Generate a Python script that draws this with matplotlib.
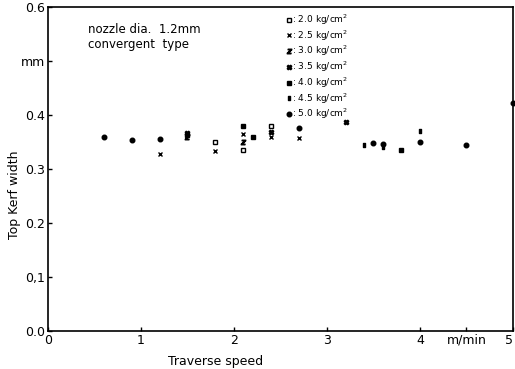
import numpy as np
import matplotlib
matplotlib.use("Agg")
import matplotlib.pyplot as plt

# Top kerf width (mm) vs traverse speed (m/min) for several gas pressures
p20_x = [1.8, 2.1, 2.4]
p20_y = [0.350, 0.335, 0.380]
p25_x = [1.2, 1.8, 2.1, 2.4, 2.7]
p25_y = [0.327, 0.333, 0.364, 0.359, 0.357]
p30_x = [1.5, 2.1]
p30_y = [0.360, 0.350]
p35_x = [1.5, 2.4, 3.2]
p35_y = [0.366, 0.368, 0.387]
p40_x = [2.1, 2.2, 3.8, 1.5]
p40_y = [0.380, 0.360, 0.335, 0.363]
p45_x = [3.4, 3.6, 4.0]
p45_y = [0.345, 0.340, 0.370]
p50_x = [0.6, 0.9, 1.2, 2.7, 3.5, 3.6, 4.0, 4.5, 5.0]
p50_y = [0.360, 0.353, 0.355, 0.376, 0.348, 0.347, 0.350, 0.345, 0.422]

series = [
    (p20_x, p20_y, "s", "white", "2.0"),
    (p25_x, p25_y, "x", "black", "2.5"),
    (p30_x, p30_y, "$z$", "black", "3.0"),
    (p35_x, p35_y, "X", "black", "3.5"),
    (p40_x, p40_y, "s", "black", "4.0"),
    (p45_x, p45_y, "$\\mathbf{I}$", "black", "4.5"),
    (p50_x, p50_y, "o", "black", "5.0"),
]

xticks = [0, 1, 2, 3, 4, 4.5, 5]
xlabels = ["0", "1", "2", "3", "4", "m/min", "5"]
yticks = [0.0, 0.1, 0.2, 0.3, 0.4, 0.5, 0.6]
ylabels = ["0.0", "0,1", "0.2", "0.3", "0.4", "mm", "0.6"]

fig = plt.figure(figsize=(5.15, 3.69), dpi=100)
ax = fig.add_axes([0.093, 0.103, 0.903, 0.878])

for xs, ys, mk, fc, lab in series:
    ax.plot(xs, ys, linestyle="none", marker=mk, markersize=3.3,
            markerfacecolor=fc, markeredgecolor="black", markeredgewidth=1,
            color="black", label=": " + lab + " kg/cm$^2$", clip_on=False)

ax.set_xlim(0, 5)
ax.set_ylim(0, 0.6)
ax.set_xticks(xticks)
ax.set_xticklabels(xlabels, fontsize=9)
ax.get_xticklabels()[-1].set_horizontalalignment("right")
ax.set_yticks(yticks)
ax.set_yticklabels(ylabels, fontsize=9)
ax.tick_params(direction="in", length=3, width=1, pad=2)
for s in ax.spines.values():
    s.set_linewidth(1.2)

ax.set_xlabel("Traverse speed", fontsize=9)
ax.xaxis.set_label_coords(0.36, -0.075)
ax.set_ylabel("Top Kerf width", fontsize=9)
ax.yaxis.set_label_coords(-0.058, 0.42)

ax.text(0.43, 0.545, "nozzle dia.  1.2mm\nconvergent  type", fontsize=8.5,
        va="center", ha="left", linespacing=1.2)

ax.legend(loc="upper left", bbox_to_anchor=(0.5, 1.0), frameon=False,
          fontsize=6.5, handlelength=0.6, handletextpad=0.1,
          labelspacing=0.15, borderpad=0.1, markerscale=1.0)

fig.savefig("out.png", dpi=100)
